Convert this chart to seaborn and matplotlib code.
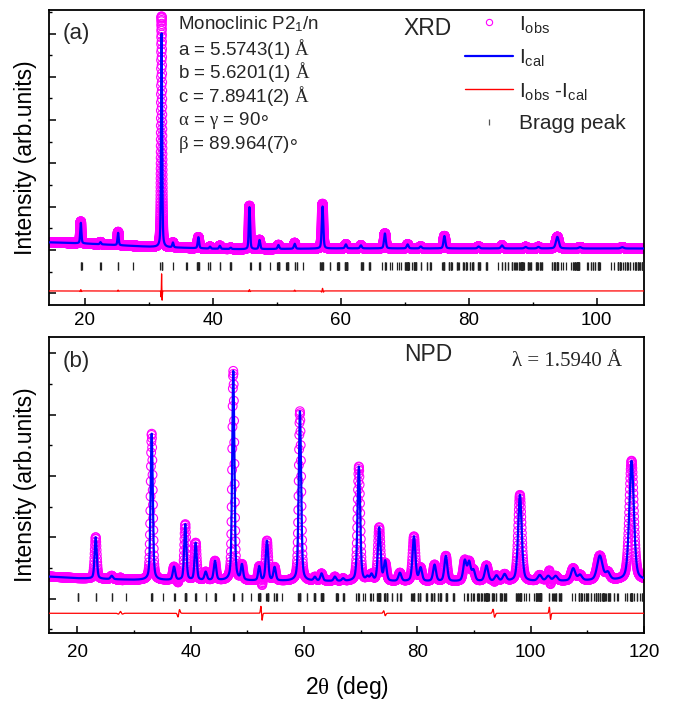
import numpy as np
import pandas as pd
import seaborn as sns
import matplotlib
matplotlib.use("Agg")
import matplotlib.pyplot as plt
from matplotlib.lines import Line2D
from matplotlib.ticker import MultipleLocator, NullFormatter

# ---------------- structure (refined cell, P2_1/n) ----------------
cell_a, cell_b, cell_c, cell_beta = 5.5743, 5.6201, 7.8941, 89.964
wavelength_xrd = 1.5406   # Cu K-alpha1
wavelength_npd = 1.5940   # neutron

# ---------------- XRD pattern: peak list (2theta, height, FWHM) ----------------
xrd_peak_pos = [19.37, 22.45, 25.20, 32.00, 33.77, 37.75, 39.57, 41.10, 42.80,
                45.73, 47.30, 50.26, 52.80, 57.15, 60.80, 63.15, 66.90, 70.45,
                72.50, 76.20, 81.55, 85.20, 88.90, 90.90, 93.85, 97.40, 104.0]
xrd_peak_int = [950, 100, 570, 9870, 220, 510, 90, 140, 60,
                1940, 420, 180, 230, 1940, 185, 140, 690, 185,
                90, 570, 90, 140, 70, 70, 535, 60, 60]
xrd_peak_fwhm = [0.22, 0.24, 0.22, 0.20, 0.24, 0.26, 0.27, 0.27, 0.27,
                 0.24, 0.27, 0.30, 0.30, 0.28, 0.32, 0.32, 0.32, 0.34,
                 0.34, 0.34, 0.38, 0.40, 0.42, 0.42, 0.52, 0.47, 0.52]
xrd_bg_pos = [14.4, 20.0, 30.0, 40.0, 45.0, 60.0, 107.4]
xrd_bg_int = [355, 300, 150, 60, 35, 75, 70]
# observed-minus-calculated misfit features (2theta, hat amp, derivative amp, width)
xrd_mis_pos = [19.37, 25.20, 32.00, 45.73, 52.80, 57.15]
xrd_mis_hat = [60, 40, 780, 60, 40, 120]
xrd_mis_der = [0, 0, 120, 0, 0, 0]
xrd_mis_wid = [0.10, 0.10, 0.07, 0.10, 0.10, 0.12]
xrd_diff_offset = -1890
xrd_bragg_level = -720
xrd_range = (14.4, 107.4)

# ---------------- NPD pattern ----------------
npd_peak_pos = [23.24, 26.07, 33.12, 37.06, 39.05, 40.88, 42.65, 44.29, 47.52,
                49.05, 52.10, 53.46, 54.81, 59.28, 61.92, 63.10, 65.45, 66.90,
                69.68, 71.20, 71.92, 73.27, 74.33, 76.92, 79.40, 80.57, 83.04,
                85.03, 88.38, 89.14, 89.90, 92.20, 93.97, 95.40, 98.10, 101.6,
                103.1, 104.4, 107.5, 108.7, 112.2, 113.6, 117.8]
npd_peak_int = [680, 55, 2390, 215, 910, 608, 135, 315, 3420,
                245, 228, 650, 217, 2770, 60, 120, 70, 40,
                1870, 60, 100, 870, 320, 135, 730, 215, 270,
                415, 330, 300, 170, 255, 90, 110, 1410, 95,
                80, 80, 200, 90, 400, 120, 1950]
npd_peak_fwhm = [0.45, 0.50, 0.45, 0.50, 0.45, 0.45, 0.50, 0.50, 0.45,
                 0.45, 0.45, 0.50, 0.50, 0.50, 0.50, 0.50, 0.50, 0.50,
                 0.55, 0.55, 0.55, 0.55, 0.55, 0.60, 0.60, 0.60, 0.60,
                 0.60, 0.65, 0.65, 0.65, 0.70, 0.70, 0.70, 0.75, 0.80,
                 0.80, 0.80, 0.85, 0.85, 1.10, 0.90, 0.95]
npd_bg_pos = [15.0, 20.0, 30.0, 50.0, 80.0, 100.0, 120.0]
npd_bg_int = [360, 333, 305, 290, 277, 280, 300]
npd_mis_pos = [27.6, 37.9, 52.5, 74.2, 93.5, 103.4]
npd_mis_hat = [30, 0, 0, 0, 0, 0]
npd_mis_der = [0, -60, 115, 40, 65, 100]
npd_mis_wid = [0.30, 0.20, 0.15, 0.20, 0.20, 0.15]
npd_diff_offset = -238
npd_bragg_level = 28
npd_range = (15.0, 120.0)

COL_OBS, COL_CAL, COL_DIF = "#FF00FF", "#0000FF", "#FF0000"


def bragg_positions(lam, tth_max):
    beta = np.radians(cell_beta)
    s2 = np.sin(beta) ** 2
    out = set()
    for h in range(-10, 11):
        for k in range(0, 11):
            for l in range(0, 15):
                if h == 0 and k == 0 and l == 0:
                    continue
                if k == 0 and (h + l) % 2:
                    continue          # n-glide: h0l, h+l = 2n
                if h == 0 and l == 0 and k % 2:
                    continue          # 2_1 screw: 0k0, k = 2n
                inv_d2 = (h**2 / cell_a**2 + k**2 * s2 / cell_b**2 + l**2 / cell_c**2
                          - 2 * h * l * np.cos(beta) / (cell_a * cell_c)) / s2
                s = lam * np.sqrt(inv_d2) / 2
                if s >= 1:
                    continue
                tth = 2 * np.degrees(np.arcsin(s))
                if tth <= tth_max:
                    out.add(round(tth, 3))
    return np.array(sorted(out))


def profile(x, pos, inten, fwhm, bg_pos, bg_int, eta=0.4):
    y = np.interp(x, bg_pos, bg_int).astype(float)
    for p, a, w in zip(pos, inten, fwhm):
        t2 = 4 * (x - p) ** 2 / w ** 2
        y += a * (eta / (1 + t2) + (1 - eta) * np.exp(-np.log(2) * t2))
    return y


def misfit(x, pos, hat, der, wid):
    y = np.zeros_like(x)
    for p, a, d, w in zip(pos, hat, der, wid):
        t = (x - p) / w
        g = np.exp(-t ** 2)
        y += a * (1 - 2 * t ** 2) * g - d * t * g * np.sqrt(2 * np.e)
    return y


def build(rng, step, pk, bg, mis, offset):
    x = np.arange(rng[0], rng[1] + step / 2, step)
    ical = profile(x, *pk, *bg)
    iobs = ical + misfit(x, *mis)
    return pd.DataFrame({"tth": x, "Iobs": iobs, "Ical": ical,
                         "diff": iobs - ical + offset})


xrd = build(xrd_range, 0.005, (xrd_peak_pos, xrd_peak_int, xrd_peak_fwhm),
            (xrd_bg_pos, xrd_bg_int),
            (xrd_mis_pos, xrd_mis_hat, xrd_mis_der, xrd_mis_wid), xrd_diff_offset)
npd = build(npd_range, 0.035, (npd_peak_pos, npd_peak_int, npd_peak_fwhm),
            (npd_bg_pos, npd_bg_int),
            (npd_mis_pos, npd_mis_hat, npd_mis_der, npd_mis_wid), npd_diff_offset)
xrd_bragg = bragg_positions(wavelength_xrd, xrd_range[1])
npd_bragg = bragg_positions(wavelength_npd, npd_range[1])

sns.set_theme(style="ticks")
plt.rcParams["font.family"] = ["Liberation Sans", "DejaVu Sans"]
plt.rcParams["mathtext.fontset"] = "custom"
plt.rcParams["mathtext.rm"] = "Liberation Serif"
plt.rcParams["mathtext.it"] = "Liberation Serif:italic"
plt.rcParams["mathtext.sf"] = "Liberation Sans"

fig = plt.figure(figsize=(6.75, 7.01), dpi=100)
ax_a = fig.add_axes([0.0726, 0.5649, 0.8815, 0.4208])
ax_b = fig.add_axes([0.0726, 0.0970, 0.8815, 0.4222])


def draw(ax, df, bragg, level, msize):
    sns.scatterplot(data=df, x="tth", y="Iobs", ax=ax, marker="o", s=msize,
                    facecolor="none", edgecolor=COL_OBS, linewidth=0.8,
                    legend=False, zorder=2)
    sns.lineplot(data=df, x="tth", y="Ical", ax=ax, color=COL_CAL, lw=1.6,
                 estimator=None, sort=False, legend=False, zorder=3)
    sns.lineplot(data=df, x="tth", y="diff", ax=ax, color=COL_DIF, lw=0.9,
                 estimator=None, sort=False, legend=False, zorder=3)
    bdf = pd.DataFrame({"tth": bragg, "y": np.full(len(bragg), level)})
    sns.scatterplot(data=bdf, x="tth", y="y", ax=ax, marker="|", s=34,
                    color="#222222", linewidth=0.9, legend=False, zorder=3)


draw(ax_a, xrd, xrd_bragg, xrd_bragg_level, 44)
draw(ax_b, npd, npd_bragg, npd_bragg_level, 40)

ax_a.set_xlim(*xrd_range)
ax_a.set_ylim(-2540, 11085)
ax_b.set_xlim(*npd_range)
ax_b.set_ylim(-560, 4268)

for ax, ymaj, pad in ((ax_a, 2000, 5), (ax_b, 1000, 8)):
    ax.xaxis.set_major_locator(MultipleLocator(20))
    ax.xaxis.set_minor_locator(MultipleLocator(10))
    ax.yaxis.set_major_locator(MultipleLocator(ymaj))
    ax.yaxis.set_minor_locator(MultipleLocator(ymaj / 2))
    ax.yaxis.set_major_formatter(NullFormatter())
    ax.tick_params(axis="both", which="major", direction="in", length=5,
                   width=1.1, labelsize=13.5, pad=pad, color="black",
                   labelcolor="black", top=False, right=False)
    ax.tick_params(axis="both", which="minor", direction="in", length=2.5,
                   width=1.0, top=False, right=False, color="black")
    for sp in ax.spines.values():
        sp.set_visible(True)
        sp.set_linewidth(1.3)
        sp.set_color("black")
    ax.set_xlabel("")
    ax.set_ylabel("Intensity (arb.units)", fontsize=16.5, color="black")
    ax.yaxis.set_label_coords(-0.020, 0.5)

ax_b.set_xlabel(r"2$\mathrm{\theta}$ (deg)", fontsize=16.5, color="black")
ax_b.xaxis.set_label_coords(0.5, -0.137)

# panel (a) annotations
ax_a.text(0.0235, 0.922, "(a)", transform=ax_a.transAxes, fontsize=16,
          ha="left", va="center")
ax_a.text(0.637, 0.939, "XRD", transform=ax_a.transAxes, fontsize=16.5,
          ha="center", va="center")
cell_lines = [r"Monoclinic P2$_{\mathsf{1}}$/n",
              r"a = 5.5743(1) $\mathrm{\AA}$",
              r"b = 5.6201(1) $\mathrm{\AA}$",
              r"c = 7.8941(2) $\mathrm{\AA}$",
              r"$\mathrm{\alpha}$ = $\mathrm{\gamma}$ = 90",
              r"$\mathrm{\beta}$ = 89.964(7)"]
cell_deg = [False, False, False, False, True, True]
cell_y = [24, 49.3, 72, 96, 120, 144]
for txt, py, deg in zip(cell_lines, cell_y, cell_deg):
    t = ax_a.text(0.2168, 1 - (py - 10) / 295, txt, transform=ax_a.transAxes,
                  fontsize=13.5, ha="left", va="center")
    if deg:
        # angle unit ring, set just after the number
        ax_a.annotate("\u2218", xy=(1.0, 0.5), xycoords=t, xytext=(-2.2, 1.2),
                      textcoords="offset points", ha="left", va="center",
                      fontsize=13.5, family="DejaVu Sans")

handles = [Line2D([], [], ls="none", marker="o", mfc="none", mec=COL_OBS,
                  ms=4.5, mew=0.8),
           Line2D([], [], color=COL_CAL, lw=1.6),
           Line2D([], [], color=COL_DIF, lw=1.0),
           Line2D([], [], ls="none", marker="|", color="#555555", ms=5, mew=0.9)]
labels = [r"I$_{\mathsf{obs}}$", r"I$_{\mathsf{cal}}$",
          r"I$_{\mathsf{obs}}$ -I$_{\mathsf{cal}}$", "Bragg peak"]
ax_a.legend(handles, labels, loc="upper right", bbox_to_anchor=(0.99, 1.03),
            frameon=False, fontsize=15, handlelength=2.3, handletextpad=0.3,
            labelspacing=0.6, borderaxespad=0.2)

# panel (b) annotations
ax_b.text(0.0235, 0.919, "(b)", transform=ax_b.transAxes, fontsize=16,
          ha="left", va="center")
ax_b.text(0.637, 0.940, "NPD", transform=ax_b.transAxes, fontsize=16.5,
          ha="center", va="center")
ax_b.text(0.7776, 0.919, "\u03bb = 1.5940 \u00c5", transform=ax_b.transAxes,
          fontsize=15, ha="left", va="center", family="Liberation Serif")

fig.savefig("out.png", dpi=100, facecolor="white")
